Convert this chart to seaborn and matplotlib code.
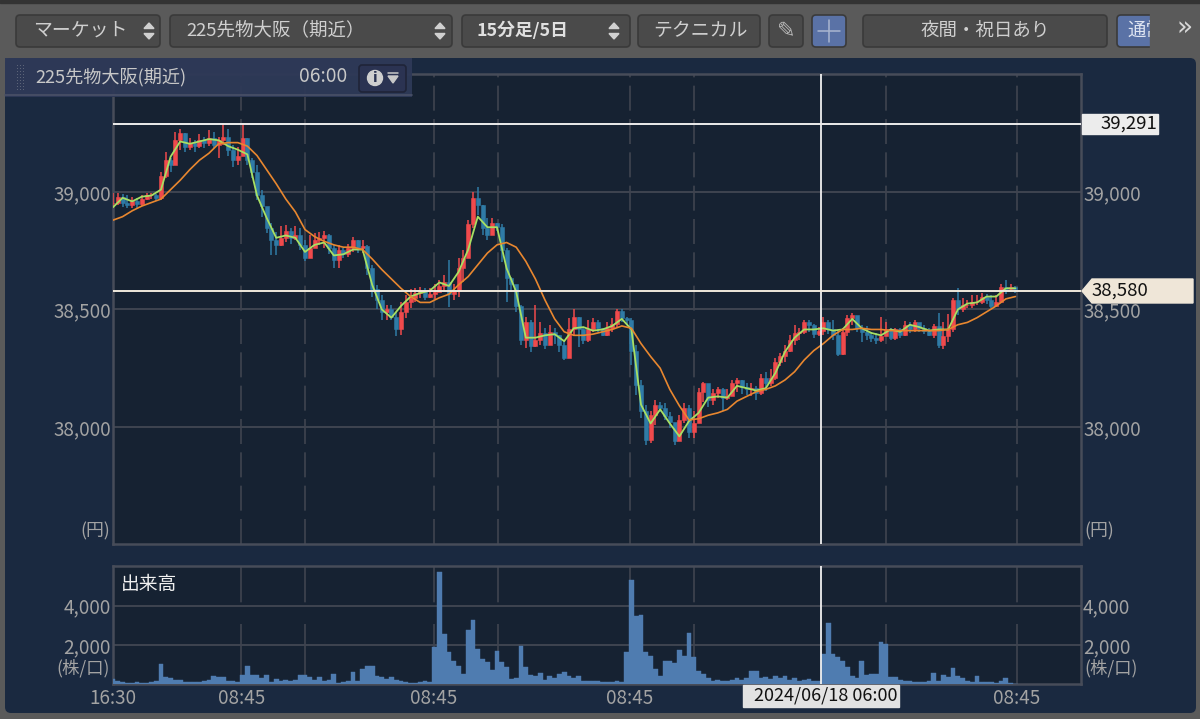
import matplotlib
matplotlib.use("Agg")
import matplotlib.pyplot as plt
from matplotlib.patches import FancyBboxPatch, Polygon, Rectangle, Circle
import numpy as np
import seaborn as sns

# values, one candle per two 15-minute bars
closes = [38955, 38980, 38955, 38945, 38960, 38950, 38970, 38985, 38985, 38975,
          39070, 39135, 39115, 39220, 39250, 39190, 39210, 39195, 39220, 39210,
          39230, 39200, 39220, 39235, 39180, 39135, 39155, 39230, 39135, 39085,
          38985, 38940, 38845, 38795, 38775, 38805, 38835, 38805, 38815, 38775,
          38720, 38760, 38795, 38805, 38815, 38760, 38710, 38755, 38735, 38760,
          38795, 38760, 38770, 38675, 38585, 38540, 38490, 38500, 38470, 38415,
          38490, 38530, 38550, 38570, 38580, 38555, 38565, 38575, 38600, 38615,
          38565, 38580, 38675, 38720, 38865, 38975, 38945, 38845, 38815, 38870,
          38850, 38755, 38635, 38610, 38515, 38370, 38445, 38345, 38370, 38400,
          38350, 38405, 38390, 38350, 38295, 38415, 38470, 38415, 38370, 38415,
          38445, 38420, 38390, 38420, 38440, 38495, 38465, 38455, 38325, 38180,
          38070, 37945, 38050, 38095, 38080, 38045, 38020, 37940, 38030, 38080,
          37980, 38015, 38150, 38185, 38115, 38145, 38160, 38125, 38130, 38185,
          38200, 38170, 38160, 38165, 38145, 38210, 38185, 38210, 38275, 38300,
          38325, 38370, 38400, 38405, 38445, 38435, 38395, 38410, 38445, 38415,
          38390, 38310, 38405, 38465, 38475, 38420, 38405, 38390, 38380, 38370,
          38385, 38415, 38380, 38415, 38390, 38435, 38415, 38445, 38420, 38410,
          38390, 38430, 38350, 38385, 38415, 38540, 38500, 38520, 38520, 38530,
          38530, 38555, 38540, 38515, 38530, 38595, 38585, 38595, 38585]
highs = [38995, 38995, 38990, 38985, 38980, 38975, 38985, 38995, 38995, 38990,
         39085, 39170, 39145, 39255, 39270, 39250, 39230, 39220, 39245, 39235,
         39265, 39255, 39235, 39290, 39270, 39200, 39190, 39290, 39230, 39145,
         39115, 39010, 38925, 38870, 38830, 38855, 38860, 38845, 38855, 38845,
         38795, 38815, 38825, 38830, 38835, 38820, 38775, 38775, 38760, 38780,
         38810, 38795, 38795, 38775, 38690, 38605, 38560, 38520, 38520, 38490,
         38530, 38560, 38585, 38590, 38595, 38590, 38590, 38610, 38625, 38645,
         38710, 38610, 38720, 38755, 38880, 39000, 39020, 38945, 38890, 38890,
         38870, 38865, 38760, 38640, 38605, 38520, 38470, 38455, 38520, 38445,
         38420, 38435, 38420, 38390, 38370, 38465, 38500, 38470, 38420, 38455,
         38465, 38455, 38420, 38445, 38465, 38500, 38500, 38470, 38465, 38350,
         38200, 38095, 38070, 38115, 38105, 38100, 38065, 37985, 38050, 38100,
         38095, 38070, 38165, 38190, 38180, 38160, 38170, 38165, 38160, 38200,
         38210, 38200, 38185, 38185, 38175, 38225, 38235, 38245, 38295, 38315,
         38350, 38390, 38435, 38420, 38455, 38455, 38440, 38425, 38470, 38455,
         38455, 38410, 38420, 38475, 38485, 38470, 38435, 38430, 38405, 38400,
         38470, 38445, 38420, 38420, 38420, 38450, 38445, 38455, 38440, 38435,
         38420, 38440, 38485, 38445, 38480, 38550, 38590, 38550, 38540, 38560,
         38560, 38570, 38565, 38560, 38560, 38610, 38625, 38610, 38600]
lows = [38935, 38945, 38935, 38930, 38930, 38930, 38940, 38965, 38970, 38960,
        38965, 39060, 39085, 39115, 39180, 39170, 39180, 39170, 39185, 39185,
        39195, 39185, 39145, 39200, 39155, 39105, 39115, 39155, 39115, 39060,
        38965, 38895, 38825, 38730, 38730, 38770, 38785, 38780, 38795, 38755,
        38705, 38730, 38770, 38775, 38760, 38735, 38675, 38675, 38720, 38725,
        38745, 38740, 38740, 38645, 38555, 38500, 38455, 38455, 38455, 38385,
        38390, 38465, 38505, 38530, 38550, 38540, 38550, 38545, 38575, 38580,
        38510, 38540, 38555, 38615, 38755, 38845, 38900, 38815, 38795, 38825,
        38835, 38700, 38530, 38575, 38490, 38350, 38335, 38320, 38340, 38350,
        38330, 38350, 38355, 38320, 38285, 38295, 38390, 38340, 38355, 38360,
        38405, 38405, 38385, 38385, 38405, 38420, 38445, 38435, 38265, 38135,
        38040, 37925, 37930, 38010, 38065, 38030, 37995, 37925, 37940, 38015,
        37955, 37955, 38015, 38105, 38085, 38095, 38125, 38070, 38115, 38130,
        38150, 38140, 38135, 38130, 38115, 38135, 38155, 38175, 38200, 38260,
        38275, 38320, 38350, 38370, 38395, 38405, 38380, 38385, 38390, 38395,
        38370, 38300, 38305, 38385, 38435, 38405, 38360, 38370, 38360, 38355,
        38360, 38385, 38370, 38370, 38380, 38385, 38400, 38405, 38405, 38395,
        38385, 38380, 38335, 38330, 38360, 38405, 38475, 38490, 38505, 38505,
        38520, 38525, 38525, 38505, 38515, 38550, 38565, 38580, 38570]
volumes = [260, 150, 80, 60, 70, 90, 50, 60, 90, 150,
           1000, 340, 300, 220, 180, 120, 100, 90, 110, 150,
           200, 430, 375, 375, 140, 170, 90, 480, 900, 480,
           480, 300, 480, 120, 250, 170, 190, 170, 200, 460,
           460, 340, 200, 340, 150, 180, 510, 60, 100, 150,
           600, 130, 770, 940, 900, 400, 375, 250, 375, 180,
           130, 90, 70, 60, 90, 170, 90, 1880, 5730, 2560,
           1620, 1200, 940, 510, 2740, 3250, 1800, 1280, 1110, 720,
           1710, 1110, 860, 260, 300, 1930, 860, 480, 430, 550,
           200, 430, 300, 510, 630, 430, 300, 430, 170, 150,
           130, 140, 100, 120, 100, 130, 110, 1620, 5340, 3450,
           3510, 1620, 1450, 770, 430, 1200, 1160, 1080, 1750, 1450,
           2600, 1370, 680, 510, 300, 170, 220, 130, 150, 180,
           290, 200, 300, 650, 650, 310, 375, 260, 430, 300,
           430, 200, 310, 170, 200, 260, 150, 170, 1540, 3110,
           1540, 1370, 1200, 860, 430, 300, 1200, 480, 510, 510,
           2140, 2050, 340, 340, 220, 170, 130, 110, 100, 120,
           170, 550, 170, 460, 350, 820, 390, 300, 130, 110,
           390, 110, 90, 80, 70, 130, 290, 60, 20]
# moving averages, read at every second candle
ma_fast = [38935, 38975, 38960, 38980, 38985, 39010, 39150, 39215, 39205, 39215,
           39225, 39220, 39195, 39180, 39160, 38985, 38890, 38805, 38815, 38805,
           38745, 38775, 38785, 38730, 38735, 38755, 38755, 38605, 38500, 38465,
           38515, 38555, 38570, 38580, 38615, 38600, 38660, 38755, 38895, 38850,
           38850, 38675, 38575, 38380, 38380, 38390, 38395, 38365, 38420, 38425,
           38410, 38415, 38430, 38460, 38415, 38095, 38015, 38075, 38015, 37960,
           38025, 38060, 38125, 38130, 38125, 38175, 38165, 38155, 38165, 38230,
           38320, 38380, 38415, 38415, 38420, 38410, 38415, 38460, 38420, 38400,
           38390, 38415, 38405, 38435, 38425, 38410, 38415, 38415, 38500, 38525,
           38530, 38555, 38555, 38590, 38590]
ma_slow = [38880, 38895, 38920, 38940, 38955, 38970, 39010, 39050, 39095, 39135,
           39165, 39205, 39210, 39210, 39195, 39155, 39095, 39035, 38970, 38915,
           38840, 38810, 38790, 38775, 38765, 38765, 38755, 38715, 38670, 38630,
           38590, 38555, 38530, 38530, 38550, 38565, 38605, 38640, 38690, 38740,
           38775, 38785, 38765, 38705, 38630, 38540, 38460, 38405, 38390, 38390,
           38395, 38405, 38415, 38430, 38420, 38355, 38300, 38250, 38160, 38090,
           38030, 38035, 38050, 38060, 38075, 38110, 38130, 38150, 38160, 38175,
           38200, 38235, 38285, 38325, 38355, 38390, 38415, 38415, 38420, 38415,
           38415, 38410, 38410, 38410, 38410, 38410, 38410, 38415, 38435, 38445,
           38465, 38490, 38515, 38545, 38555]

price_ticks = [38000, 38500, 39000]
price_labels = ["38,000", "38,500", "39,000"]
volume_ticks = [2000, 4000]
volume_labels = ["2,000", "4,000"]
session_ticks = [0, 26.7, 40, 66.9, 80.2, 107.7, 121, 161, 188.3]
session_labels = ["16:30", "08:45", "", "08:45", "", "08:45", "", "", "08:45"]
cursor_bar = 147.5
high_line = 39291
last_price = 38580

sns.set_theme(style="dark")
plt.rcParams["font.family"] = ["Noto Sans CJK JP", "DejaVu Sans"]

NAVY = "#1a2940"
PLOT = "#162232"
EDGE = "#474c59"
GRID = "#3f4450"
LABEL = "#a3a3a3"
UP = "#f04a4c"
DOWN = "#2f7ba6"
VOLUME = "#4f7cb0"

W, H = 1200, 719
fig = plt.figure(figsize=(12, 7.19), dpi=100, facecolor="#5a5a5a")

back = fig.add_axes([0, 0, 1, 1], zorder=0)
back.set_xlim(0, W)
back.set_ylim(H, 0)
back.axis("off")
back.add_patch(Rectangle((0, 0), W, 3, color="#333333"))
back.add_patch(FancyBboxPatch((5, 58), 1191, 655, boxstyle="round,pad=0,rounding_size=6",
                              fc=NAVY, ec="none"))

price_ax = fig.add_axes([113 / W, 1 - 544 / H, 968 / W, 470 / H], zorder=2, facecolor=PLOT)
volume_ax = fig.add_axes([113 / W, 1 - 684 / H, 968 / W, 118 / H], zorder=2, facecolor=PLOT)

bars = np.arange(len(closes))
opens = np.array([closes[0]] + closes[:-1])
close_arr = np.array(closes)
colors = [UP if c >= o else DOWN for o, c in zip(opens, close_arr)]

price_ax.vlines(bars, lows, highs, colors=colors, lw=1.1, zorder=3)
price_ax.bar(bars, close_arr - opens, bottom=opens, width=0.85, color=colors,
             edgecolor=colors, lw=0.4, zorder=3)

line_bars = bars[::2]
sns.lineplot(x=line_bars, y=ma_fast, ax=price_ax, color="#a8e063", lw=1.3, zorder=5, legend=False)
sns.lineplot(x=line_bars, y=ma_slow, ax=price_ax, color="#e8872f", lw=1.2, zorder=5, legend=False)

sns.barplot(x=bars, y=volumes, ax=volume_ax, native_scale=True, color=VOLUME,
            saturation=1, width=1.0, errorbar=None, zorder=3, edgecolor=VOLUME, linewidth=0.3)

for ax in (price_ax, volume_ax):
    ax.set_xlim(0, 968 / 4.8)
    ax.set_xticks(session_ticks)
    ax.set_xlabel("")
    ax.set_ylabel("")
    ax.grid(axis="y", color=GRID, lw=1.4)
    ax.set_axisbelow(True)
    ax.tick_params(axis="y", length=0, pad=1.5, labelleft=True, labelright=True,
                   labelsize=13.6, labelcolor=LABEL)
    ax.tick_params(axis="x", length=0)
    for spine in ax.spines.values():
        spine.set_visible(True)
        spine.set_color(EDGE)
        spine.set_linewidth(1.8)
    ax.axvline(cursor_bar, color="#f0f0f0", lw=1.3, zorder=6)

price_ax.set_ylim(37502, 39502)
price_ax.set_yticks(price_ticks, price_labels)
price_ax.set_xticklabels([])
price_ax.grid(axis="x", color=GRID, lw=1.2, ls=(0, (15, 5)))
price_ax.axhline(high_line, color="#ececec", lw=1.4, zorder=6)
price_ax.axhline(last_price, color="#efe9dc", lw=1.4, zorder=6)

volume_ax.set_ylim(0, 6030)
volume_ax.set_yticks(volume_ticks, volume_labels)
volume_ax.set_xticks(session_ticks, session_labels)
volume_ax.tick_params(axis="x", pad=3, labelsize=13.6, labelcolor=LABEL)
volume_ax.grid(axis="x", color=GRID, lw=1.2, ls=(0, (36, 13)))
volume_ax.text(8 / 968, 0.845, "出来高", transform=volume_ax.transAxes, color="#f0f0f0",
               fontsize=13.5, va="center", zorder=7)

# toolbar, info strip and value tags drawn in pixel space
chrome = fig.add_axes([0, 0, 1, 1], zorder=5)
chrome.set_xlim(0, W)
chrome.set_ylim(H, 0)
chrome.axis("off")


def button(x0, x1, label=None, text_x=None, fc="#4a4a4a", weight="normal", arrows=None,
           color="#cfcfcf", size=13.3):
    chrome.add_patch(FancyBboxPatch((x0, 15), x1 - x0, 32, boxstyle="round,pad=0,rounding_size=4",
                                    fc=fc, ec="#3a3a3a", lw=1.2))
    if label:
        chrome.text(text_x, 30.5, label, color=color, fontsize=size, va="center", weight=weight)
    if arrows:
        chrome.add_patch(Polygon([(arrows - 5, 28.5), (arrows + 5, 28.5), (arrows, 23)], color="#d0d0d0"))
        chrome.add_patch(Polygon([(arrows - 5, 33.5), (arrows + 5, 33.5), (arrows, 39)], color="#d0d0d0"))


button(16, 160, "マーケット", 33, arrows=149, size=13.6)
button(170, 452, "225先物大阪（期近）", 186, arrows=440)
button(462, 630, "15分足/5日", 477, weight="bold", arrows=614, color="#e0e0e0", size=12.8)
button(638, 760, "テクニカル", 653, size=13.6)
button(769, 803)
chrome.text(786, 31, "✎", color="#b5b5b5", fontsize=16, ha="center", va="center", family="DejaVu Sans")
button(812, 846, fc="#5a72a6")
chrome.plot([818, 840], [31, 31], color="#aab6d0", lw=1.1)
chrome.plot([829, 829], [20, 42], color="#aab6d0", lw=1.1)
button(863, 1107, "夜間・祝日あり", 921)
button(1117, 1158, fc="#5a72a6")
chrome.text(1127, 30.5, "通常", color="#dfe5f2", fontsize=13.3, va="center", zorder=3)
chrome.add_patch(Rectangle((1150, 10), 27, 42, color="#5a5a5a", zorder=4))
chrome.text(1185, 29, "»", color="#d8d8d8", fontsize=19, ha="center", va="center",
            family="DejaVu Sans", zorder=5)

# info strip over the top-left of the chart
chrome.add_patch(Rectangle((5, 58), 407, 39, fc="#2e3957", ec="none", alpha=0.96))
chrome.plot([5, 412], [95, 95], color="#4a5168", lw=1.2)
for gx in (17, 20, 23):
    for gy in np.arange(65, 92, 3):
        chrome.add_patch(Rectangle((gx, gy), 1, 1, color="#5c6478", lw=0))
chrome.text(35, 77, "225先物大阪(期近)", color="#c8c8c8", fontsize=13.1, va="center")
chrome.text(299, 77, "06:00", color="#c8c8c8", fontsize=13.8, va="center")
chrome.add_patch(FancyBboxPatch((359, 65), 47, 27, boxstyle="round,pad=0,rounding_size=3",
                                fc="#2b3352", ec="#1f2438", lw=1.2))
chrome.add_patch(Circle((375, 78), 7.5, color="#cfcfcf"))
chrome.text(375, 78, "i", color="#2b3352", fontsize=10, ha="center", va="center", weight="bold",
            family="DejaVu Sans")
chrome.plot([388, 398], [73, 73], color="#c8c8c8", lw=1.1)
chrome.add_patch(Polygon([(388, 76), (398, 76), (393, 83)], color="#c8c8c8"))

# value tags
chrome.add_patch(Rectangle((1082, 114), 76, 20, color="#ececec"))
chrome.text(1157, 124, "39,291", color="#111111", fontsize=13.4, ha="right", va="center")
chrome.add_patch(Polygon([(1082, 291), (1092, 279), (1193, 279), (1193, 303), (1092, 303)], color="#efe6d8"))
chrome.text(1092, 291, "38,580", color="#111111", fontsize=13.4, va="center")
chrome.add_patch(Rectangle((743, 685), 156, 22, color="#e2e2e2"))
chrome.text(754, 695.5, "2024/06/18 06:00", color="#111111", fontsize=13, va="center")

chrome.text(110, 531, "(円)", color=LABEL, fontsize=12.8, ha="right", va="center")
chrome.text(1084, 531, "(円)", color=LABEL, fontsize=12.8, va="center")
chrome.text(110, 668, "(株/口)", color=LABEL, fontsize=12.5, ha="right", va="center")
chrome.text(1084, 668, "(株/口)", color=LABEL, fontsize=12.5, va="center")

fig.savefig("out.png", dpi=100, facecolor=fig.get_facecolor())
